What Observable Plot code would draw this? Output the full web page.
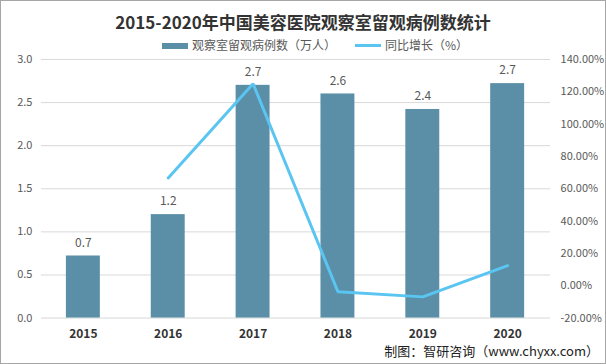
<!DOCTYPE html>
<html>
<head>
<meta charset="utf-8">
<script src="https://cdn.jsdelivr.net/npm/d3@7"></script>
<script src="https://cdn.jsdelivr.net/npm/@observablehq/plot@0.6"></script>
<style>
  html, body { margin: 0; padding: 0; background: #fff; }
  #wrap { position: relative; width: 606px; height: 364px; box-sizing: border-box; border: 1px solid #a6a6a6; overflow: hidden; font-family: "Noto Sans CJK SC", "Noto Sans", sans-serif; }
  #title { position: absolute; left: 0; top: 9px; width: 604px; text-align: center; font-size: 17px; font-weight: 700; color: #333; line-height: 24px; }
  #legend { position: absolute; top: 35px; left: 0; width: 604px; height: 18px; font-size: 12px; color: #595959; line-height: 18px; }
  .lg { position: absolute; top: 0; white-space: nowrap; }
  .sw { display: inline-block; vertical-align: middle; width: 26px; margin-right: 4px; position: relative; top: -1px; }
  #chart { position: absolute; left: -1px; top: 49px; }
  #footer { position: absolute; right: 6px; top: 340px; font-size: 13px; color: #222; line-height: 20px; }
</style>
</head>
<body>
<div id="wrap">
  <div id="title">2015-2020年中国美容医院观察室留观病例数统计</div>
  <div id="legend">
    <span class="lg" style="left:161px"><span class="sw" style="height:6px;background:#5B8FA7"></span>观察室留观病例数（万人）</span>
    <span class="lg" style="left:354px"><span class="sw" style="height:3px;background:#5BC5F2"></span>同比增长（%）</span>
  </div>
  <div id="chart"></div>
  <div id="footer">制图：智研咨询（www.chyxx.com）</div>
</div>
<script>
const years = ["2015", "2016", "2017", "2018", "2019", "2020"];
const cases = [0.72, 1.2, 2.7, 2.6, 2.42, 2.72];
const growthYears = ["2016", "2017", "2018", "2019", "2020"];
const growth = [66.7, 125.0, -3.7, -6.9, 12.4];
const leftTicks = [0, 0.5, 1.0, 1.5, 2.0, 2.5, 3.0];
const rightTicks = [-20, 0, 20, 40, 60, 80, 100, 120, 140];

const toLeft = p => (p + 20) * 3 / 160;
const fromLeft = v => v * 160 / 3 - 20;

const barData = years.map((y, i) => ({year: y, v: cases[i]}));
const lineData = growthYears.map((y, i) => ({year: y, g: growth[i]}));

const chart = Plot.plot({
  width: 606,
  height: 298,
  marginTop: 9,
  marginBottom: 30,
  marginLeft: 41,
  marginRight: 55,
  x: {domain: years, paddingInner: 0.6, paddingOuter: 0.3, axis: null},
  y: {domain: [0, 3], axis: null},
  style: {fontFamily: '"Noto Sans CJK SC", "Noto Sans", sans-serif', background: "transparent", overflow: "visible"},
  marks: [
    Plot.gridY(leftTicks, {stroke: "#d9d9d9", strokeOpacity: 1}),
    Plot.barY(barData, {x: "year", y: "v", fill: "#5B8FA7"}),
    Plot.lineY(lineData, {x: "year", y: d => toLeft(d.g), stroke: "#5BC5F2", strokeWidth: 3, strokeLinejoin: "miter"}),
    Plot.text(barData, {x: "year", y: "v", text: d => d.v.toFixed(1), dy: -13, fill: "#595959", fontSize: 12}),
    Plot.axisY(leftTicks, {anchor: "left", label: null, tickSize: 0, tickPadding: 9, tickFormat: d => d.toFixed(1), fill: "#595959", fontSize: 11}),
    Plot.axisY(rightTicks.map(toLeft), {anchor: "right", label: null, tickSize: 0, tickPadding: 10, tickFormat: d => Math.round(fromLeft(d)).toFixed(2) + "%", fill: "#595959", fontSize: 11}),
    Plot.axisX({label: null, tickSize: 0, tickPadding: 11, fontWeight: "bold", fontSize: 12, fill: "#333"})
  ]
});
document.getElementById("chart").appendChild(chart);
</script>
</body>
</html>
